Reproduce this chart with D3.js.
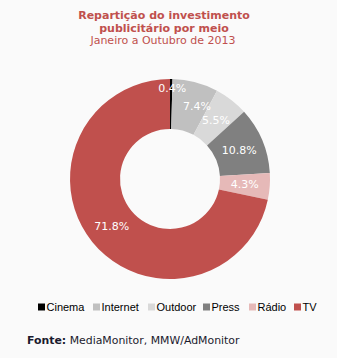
<!DOCTYPE html>
<html>
<head>
<meta charset="utf-8">
<script src="https://cdn.jsdelivr.net/npm/d3@7"></script>
<style>
  html, body { margin: 0; padding: 0; background: #fafafa; }
  svg { display: block; }
</style>
</head>
<body>
<svg id="chart" width="337" height="358"></svg>
<script>
// Advertising spend share by medium, Jan–Oct 2013
const media = ["Cinema", "Internet", "Outdoor", "Press", "Rádio", "TV"];
const shares = [0.4, 7.4, 5.5, 10.8, 4.3, 71.8];
const colors = ["#000000", "#c0c0c0", "#d9d9d9", "#808080", "#e6b9b8", "#c0504d"];

const titleLines = ["Repartição do investimento", "publicitário por meio"];
const subtitle = "Janeiro a Outubro de 2013";
const sourceLabel = "Fonte:";
const sourceText = " MediaMonitor, MMW/AdMonitor";

const W = 337, H = 358;
const cx = 170, cy = 179, rOuter = 100, rInner = 50, rLabel = 75;

const svg = d3.select("#chart");
svg.append("rect").attr("width", W).attr("height", H).attr("fill", "#fafafa");

// Titles
const titleFont = "'DejaVu Sans', Verdana, sans-serif";
svg.append("g").selectAll("text").data(titleLines).join("text")
  .attr("x", 164).attr("y", (d, i) => 19 + i * 12.5)
  .attr("text-anchor", "middle")
  .attr("font-family", titleFont).attr("font-size", 11).attr("font-weight", "bold")
  .attr("fill", "#c0504d").text(d => d);
svg.append("text")
  .attr("x", 163).attr("y", 44)
  .attr("text-anchor", "middle")
  .attr("font-family", titleFont).attr("font-size", 11)
  .attr("fill", "#c0504d").text(subtitle);

// Donut
const data = media.map((m, i) => ({ medium: m, value: shares[i], color: colors[i] }));
const pie = d3.pie().value(d => d.value).sort(null);
const arcs = pie(data);
const arc = d3.arc().innerRadius(rInner).outerRadius(rOuter);
const g = svg.append("g").attr("transform", `translate(${cx},${cy})`);
g.selectAll("path").data(arcs).join("path")
  .attr("d", arc).attr("fill", d => d.data.color);

// Value labels; the thin slices push their label outward
const labelNudge = { Cinema: { r: 91, dx: 1 }, Internet: { r: 75, dx: 8 } };
g.selectAll("text.val").data(arcs).join("text")
  .attr("class", "val")
  .attr("transform", d => {
    const n = labelNudge[d.data.medium] || {};
    const r = n.r || rLabel;
    const a = (d.startAngle + d.endAngle) / 2;
    return `translate(${r * Math.sin(a) + (n.dx || 0)},${-r * Math.cos(a)})`;
  })
  .attr("text-anchor", "middle").attr("dy", "0.35em")
  .attr("font-family", titleFont).attr("font-size", 11)
  .attr("fill", "#ffffff")
  .text(d => d3.format(".1f")(d.data.value) + "%");

// Legend
const legendX = [38, 93, 148, 203, 249, 294];
const lg = svg.append("g").attr("font-family", "'Liberation Sans', Arial, sans-serif").attr("font-size", 11);
const items = lg.selectAll("g").data(data).join("g")
  .attr("transform", (d, i) => `translate(${legendX[i]},307)`);
items.append("rect").attr("x", 0).attr("y", -3.5).attr("width", 7).attr("height", 7)
  .attr("fill", d => d.color);
items.append("text").attr("x", 8.5).attr("dy", "0.35em").attr("fill", "#000").text(d => d.medium);

// Source note
const src = svg.append("text").attr("x", 27).attr("y", 344)
  .attr("font-family", titleFont).attr("font-size", 10.9).attr("fill", "#1a1a2e");
src.append("tspan").attr("font-weight", "bold").text(sourceLabel);
src.append("tspan").text(sourceText);
</script>
</body>
</html>
